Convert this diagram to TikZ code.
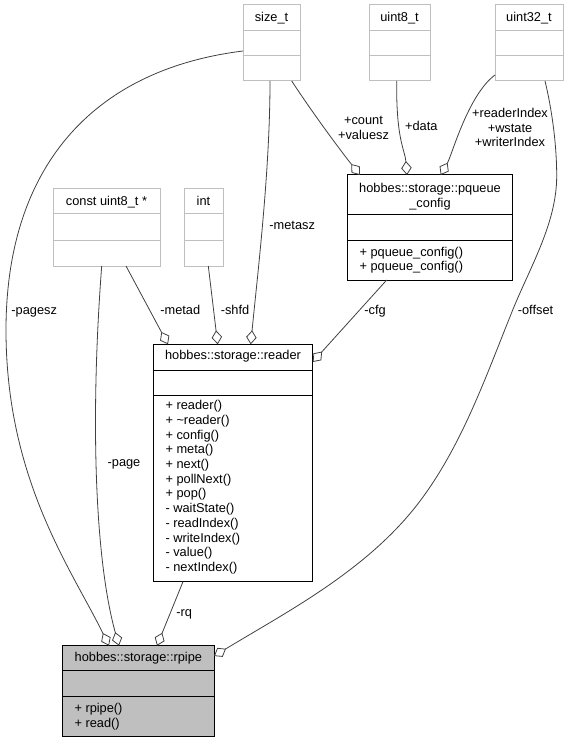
\documentclass[tikz,border=0pt]{standalone}
\usepackage{fontspec}
\setmainfont{Liberation Sans}
\usetikzlibrary{arrows.meta}
\definecolor{boxgray}{HTML}{BFBFBF}
\definecolor{edgegray}{HTML}{404040}

\begin{document}
\begin{tikzpicture}[x=1pt,y=-1pt,
  font={\fontsize{12.8}{14.7}\selectfont},
  umlbox/.style={draw=boxgray, line width=1pt, inner sep=0pt, outer sep=0pt, anchor=north west},
  umlclass/.style={umlbox, draw=black},
  classname/.style={anchor=base, inner sep=0pt},
  member/.style={anchor=base west, inner sep=0pt},
  lbl/.style={inner sep=0pt, text height=9pt, text depth=2.7pt},
  lbls/.style={inner sep=0pt, align=center},
  assoc/.style={draw=edgegray, line width=0.8pt, -{Diamond[open, length=14pt, width=10.5pt]}}]
  \useasboundingbox (0,0) rectangle (569,743);

  % plain types
  \node[umlbox, minimum width=57pt, minimum height=76pt] (sizet) at (243,5) {};
  \node[umlbox, minimum width=61pt, minimum height=76pt] (uinteight) at (369,5) {};
  \node[umlbox, minimum width=68pt, minimum height=76pt] (uintthirtytwo) at (495,5) {};
  \node[umlbox, minimum width=107pt, minimum height=77pt] (constuint) at (53,189) {};
  \node[umlbox, minimum width=39pt, minimum height=77pt] (int) at (184,189) {};
  % classes
  \node[umlclass, minimum width=165.4pt, minimum height=105pt] (pqueue) at (347.3,175) {};
  \node[umlclass, minimum width=159.4pt, minimum height=237.4pt] (reader) at (153.3,344.3) {};
  \node[umlclass, fill=boxgray, minimum width=151.3pt, minimum height=90.3pt] (rpipe) at (62.7,645.7) {};

  \foreach \b/\s/\t/\c in {sizet/25.5/51/boxgray, uinteight/25.5/51/boxgray,
      uintthirtytwo/25.5/51/boxgray, constuint/25/51.5/boxgray, int/25/51.5/boxgray,
      pqueue/40/65/black, reader/25.7/50.7/black, rpipe/25/51/black}
  {
    \draw[\c, line width=1pt] ([yshift=-\s pt]\b.north west) -- ([yshift=-\s pt]\b.north east);
    \draw[\c, line width=1pt] ([yshift=-\t pt]\b.north west) -- ([yshift=-\t pt]\b.north east);
  }

  % names
  \node[classname] (sizetname) at ([yshift=-16.5pt]sizet.north) {size\_t};
  \node[classname] (uinteightname) at ([yshift=-16.5pt]uinteight.north) {uint8\_t};
  \node[classname] (uintthirtytwoname) at ([yshift=-16.5pt]uintthirtytwo.north) {uint32\_t};
  \node[classname] (constuintname) at ([yshift=-16.5pt]constuint.north) {const uint8\_t *};
  \node[classname] (intname) at ([yshift=-16.5pt]int.north) {int};
  \node[classname] (pqueuename) at ([yshift=-17.5pt]pqueue.north) {hobbes::storage::pqueue};
  \node[classname] (pqueuenametail) at ([yshift=-32.5pt]pqueue.north) {\_config};
  \node[classname] (readername) at ([yshift=-15.5pt]reader.north) {hobbes::storage::reader};
  \node[classname] (rpipename) at ([yshift=-16pt]rpipe.north) {hobbes::storage::rpipe};

  % members
  \foreach \m [count=\i from 0] in {+ pqueue\_config(), + pqueue\_config()}
    \node[member] (pqueueop\i) at ([xshift=12pt, yshift=-81.5pt-\i*13.5pt]pqueue.north west) {\m};
  \foreach \m [count=\i from 0] in {+ reader(), + \textasciitilde reader(), + config(), + meta(),
      + next(), + pollNext(), + pop(), - waitState(), - readIndex(), - writeIndex(),
      - value(), - nextIndex()}
    \node[member] (readerop\i) at ([xshift=12pt, yshift=-65.4pt-\i*14.7pt]reader.north west) {\m};
  \foreach \m [count=\i from 0] in {+ rpipe(), + read()}
    \node[member] (rpipeop\i) at ([xshift=11.6pt, yshift=-66.8pt-\i*14.6pt]rpipe.north west) {\m};

  % members of rpipe
  \draw[assoc] ([yshift=-46pt]sizet.north west) .. controls (90,70) and (6,170) .. (6,330)
    .. controls (6,480) and (72,570) .. ([xshift=46.3pt]rpipe.north west);
  \draw[assoc] ([xshift=48.7pt]constuint.south west) .. controls (90,420) and (95,560)
    .. ([xshift=56.3pt]rpipe.north west);
  \draw[assoc] ([xshift=29.7pt]reader.south west) -- ([xshift=94.3pt]rpipe.north west);
  \draw[assoc] ([xshift=50pt]uintthirtytwo.south west) .. controls (552,110) and (556.7,145) .. (556.7,176)
    .. controls (556.7,223) and (530.4,266.4) .. (512.7,310)
    .. controls (486.8,374) and (463.6,441.2) .. (423,497)
    .. controls (371.3,568.2) and (289.2,610.4) .. ([yshift=-10.3pt]rpipe.north east);
  % members of reader
  \draw[assoc] ([xshift=73pt]constuint.south west) -- ([xshift=14.7pt]reader.north west);
  \draw[assoc] ([xshift=24.3pt]int.south west) -- ([xshift=64.4pt]reader.north west);
  \draw[assoc] ([xshift=27pt]sizet.south west) .. controls (270,170) and (258,270)
    .. ([xshift=97.4pt]reader.north west);
  \draw[assoc] ([xshift=39.4pt]pqueue.south west) -- ([yshift=-17.7pt]reader.north east);
  % members of pqueue_config
  \draw[assoc] ([xshift=48.7pt]sizet.south west) .. controls (312,112) and (340,150)
    .. ([xshift=12.7pt]pqueue.north west);
  \draw[assoc] ([xshift=27.7pt]uinteight.south west) .. controls (396,140) and (405,150)
    .. ([xshift=59.7pt]pqueue.north west);
  \draw[assoc] ([yshift=6pt]uintthirtytwo.south west) .. controls (468,95) and (452,155)
    .. ([xshift=93.4pt]pqueue.north west);

  % labels
  \node[lbl] (pageszlbl) at (34.2,311.7) {-pagesz};
  \node[lbl] (pagelbl) at (124,463) {-page};
  \node[lbl] (rqlbl) at (184.2,613.3) {-rq};
  \node[lbl] (offsetlbl) at (535.5,311.7) {-offset};
  \node[lbl] (metadlbl) at (180.3,311.7) {-metad};
  \node[lbl] (shfdlbl) at (235,311.7) {-shfd};
  \node[lbl] (metaszlbl) at (292.2,226.7) {-metasz};
  \node[lbl] (cfglbl) at (375,311.7) {-cfg};
  \node[lbls] (countlbl) at (363.5,128) {+count\\+valuesz};
  \node[lbl] (datalbl) at (421.3,127.7) {+data};
  \node[lbls] (indexlbl) at (510,127.7) {+readerIndex\\+wstate\\+writerIndex};
\end{tikzpicture}
\end{document}
